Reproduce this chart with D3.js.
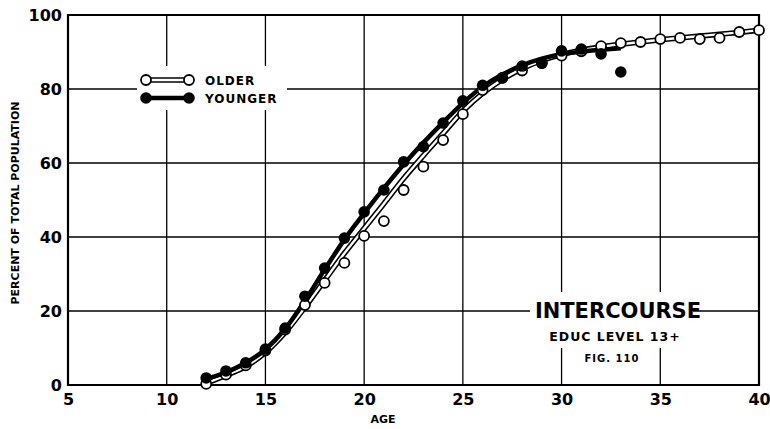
<!DOCTYPE html>
<html><head><meta charset="utf-8">
<script src="https://cdn.jsdelivr.net/npm/d3@7"></script>
<style>body{margin:0;background:#fff}svg{display:block}</style>
</head><body><svg id="c" width="770" height="429"></svg>
<script>
// ----- data -----
const xTicks = [5,10,15,20,25,30,35,40];
const yTicks = [0,20,40,60,80,100];
// observed points
const olderAges = [12,13,14,15,16,17,18,19,20,21,22,23,24,25,26,27,28,29,30,31,32,33,34,35,36,37,38,39,40];
const olderPts  = [0.3,2.8,5.3,9.3,15,21.6,27.6,33,40.3,44.3,52.7,59,66.2,73.2,79.7,83,85,87,89,90.2,91.6,92.4,92.7,93.5,93.8,93.5,93.8,95.4,95.9];
const youngerAges = [12,13,14,15,16,17,18,19,20,21,22,23,24,25,26,27,28,29,30,31,32,33];
const youngerPts  = [1.9,3.8,6,9.7,15.4,24,31.6,39.7,46.8,52.7,60.3,64.4,70.8,76.8,81,83,86.2,87,90.3,90.8,89.5,84.6];
// hand-drawn smoothed curves
const olderCurveAges = [12,13,14,15,16,17,18,19,20,21,22,23,24,25,26,27,28,29,30,31,32,33,34,35,36,37,38,39,40];
const olderCurve     = [0.5,2.6,5,8.8,14.2,21,28.3,35.6,42.3,49,55.8,62,68,74,78.8,82.6,85.5,87.7,89.3,90.5,91.4,92.1,92.7,93.3,93.8,94.3,94.8,95.3,95.9];
const youngerCurveAges = [12,13,14,15,16,17,18,19,20,21,22,23,24,25,26,27,28,29,30,31,32,33];
const youngerCurve     = [1.6,3.4,6,9.6,15.2,22.8,31.2,39.3,46.4,53.2,59.6,65.5,71,76.2,80.6,83.9,86.4,88.2,89.4,90.1,90.6,91];
const legendLabels = ["OLDER","YOUNGER"];

// ----- layout -----
const svg = d3.select("#c");
const x = d3.scaleLinear().domain([5,40]).range([68,759]);
const y = d3.scaleLinear().domain([0,100]).range([385,15]);
const FONT = "'DejaVu Sans', sans-serif";

// grid
const g = svg.append("g");
g.selectAll("line.v").data(xTicks.filter(d=>d>5&&d<40)).join("line")
  .attr("x1",d=>x(d)).attr("x2",d=>x(d)).attr("y1",y(100)).attr("y2",y(0))
  .attr("stroke","#000").attr("stroke-width",1.3);
g.selectAll("line.h").data(yTicks.filter(d=>d>0&&d<100)).join("line")
  .attr("x1",x(5)).attr("x2",x(40)).attr("y1",d=>y(d)).attr("y2",d=>y(d))
  .attr("stroke","#000").attr("stroke-width",1.3);

// white masks behind legend / annotation
svg.append("rect").attr("x",137).attr("y",66).attr("width",150).attr("height",44).attr("fill","#fff");
svg.append("rect").attr("x",530).attr("y",292).attr("width",163).attr("height",31).attr("fill","#fff");
svg.append("rect").attr("x",536).attr("y",323).attr("width",157).attr("height",25).attr("fill","#fff");

// frame
svg.append("path").attr("d",`M${x(5)},${y(100)}H${x(40)}V${y(0)}H${x(5)}Z`)
  .attr("fill","none").attr("stroke","#000").attr("stroke-width",2.2);

// axes
const xAxis = d3.axisBottom(x).tickValues(xTicks).tickSize(0).tickPadding(9).tickFormat(d3.format("d"));
const ax = svg.append("g").attr("transform",`translate(0,${y(0)})`).call(xAxis);
ax.select(".domain").remove();
ax.selectAll("text").attr("font-family",FONT).attr("font-weight","bold").attr("font-size",16).attr("fill","#000");
const yAxis = d3.axisLeft(y).tickValues(yTicks).tickSize(0).tickPadding(6).tickFormat(d3.format("d"));
const ay = svg.append("g").attr("transform",`translate(${x(5)},0)`).call(yAxis);
ay.select(".domain").remove();
ay.selectAll("text").attr("font-family",FONT).attr("font-weight","bold").attr("font-size",16).attr("fill","#000");

svg.append("text").attr("x",383).attr("y",423).attr("text-anchor","middle")
  .attr("font-family",FONT).attr("font-weight","bold").attr("font-size",11).text("AGE");
svg.append("text").attr("transform","translate(19,203) rotate(-90)").attr("text-anchor","middle")
  .attr("font-family",FONT).attr("font-weight","bold").attr("font-size",11).text("PERCENT OF TOTAL POPULATION");

// curves
const line = d3.line().x(d=>x(d[0])).y(d=>y(d[1])).curve(d3.curveMonotoneX);
const oc = olderCurveAges.map((a,i)=>[a,olderCurve[i]]);
const yc = youngerCurveAges.map((a,i)=>[a,youngerCurve[i]]);
svg.append("path").attr("d",line(oc)).attr("fill","none").attr("stroke","#000").attr("stroke-width",5.5);
svg.append("path").attr("d",line(oc)).attr("fill","none").attr("stroke","#fff").attr("stroke-width",2.4);
svg.append("path").attr("d",line(yc)).attr("fill","none").attr("stroke","#000").attr("stroke-width",4.5);

// points
svg.selectAll("circle.o").data(olderAges.map((a,i)=>[a,olderPts[i]])).join("circle")
  .attr("cx",d=>x(d[0])).attr("cy",d=>y(d[1])).attr("r",5).attr("fill","#fff").attr("stroke","#000").attr("stroke-width",1.8);
svg.selectAll("circle.y").data(youngerAges.map((a,i)=>[a,youngerPts[i]])).join("circle")
  .attr("cx",d=>x(d[0])).attr("cy",d=>y(d[1])).attr("r",5.8).attr("fill","#000");

// legend
const lg = svg.append("g");
const ly = [80,98];
lg.append("line").attr("x1",146).attr("x2",189).attr("y1",ly[0]).attr("y2",ly[0]).attr("stroke","#000").attr("stroke-width",5.5);
lg.append("line").attr("x1",146).attr("x2",189).attr("y1",ly[0]).attr("y2",ly[0]).attr("stroke","#fff").attr("stroke-width",2.4);
[146,189].forEach(cx=>lg.append("circle").attr("cx",cx).attr("cy",ly[0]).attr("r",5).attr("fill","#fff").attr("stroke","#000").attr("stroke-width",1.8));
lg.append("line").attr("x1",146).attr("x2",189).attr("y1",ly[1]).attr("y2",ly[1]).attr("stroke","#000").attr("stroke-width",4.5);
[146,189].forEach(cx=>lg.append("circle").attr("cx",cx).attr("cy",ly[1]).attr("r",5.8).attr("fill","#000"));
legendLabels.forEach((t,i)=>lg.append("text").attr("x",205).attr("y",ly[i]+4.5)
  .attr("font-family",FONT).attr("font-weight","bold").attr("font-size",12).attr("letter-spacing",1).text(t));

// annotation
svg.append("text").attr("x",618).attr("y",318).attr("text-anchor","middle")
  .attr("font-family",FONT).attr("font-size",21).attr("font-weight","bold").text("INTERCOURSE");
svg.append("text").attr("x",615).attr("y",341).attr("text-anchor","middle")
  .attr("font-family",FONT).attr("font-size",12.5).attr("font-weight","bold").attr("letter-spacing",1).text("EDUC LEVEL  13+");
svg.append("text").attr("x",612).attr("y",362).attr("text-anchor","middle")
  .attr("font-family",FONT).attr("font-size",10).attr("font-weight","bold").attr("letter-spacing",1).text("FIG. 110");
</script></body></html>
